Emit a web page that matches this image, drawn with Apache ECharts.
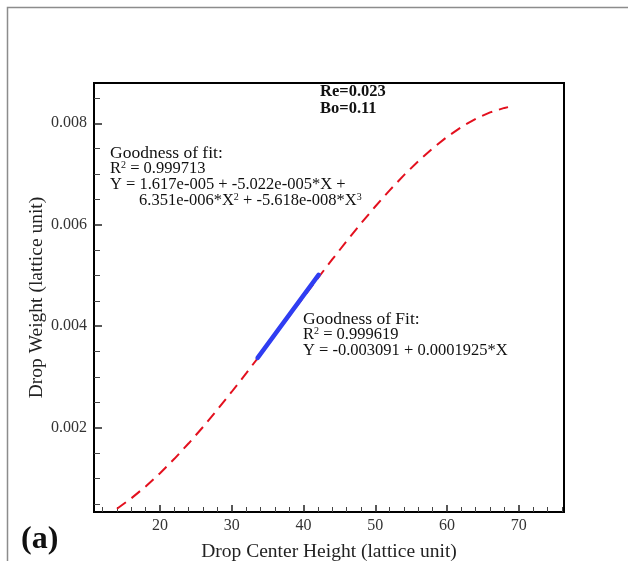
<!DOCTYPE html>
<html><head><meta charset="utf-8">
<script src="https://cdn.jsdelivr.net/npm/echarts@6/dist/echarts.min.js"></script>
<style>html,body{margin:0;padding:0;background:#fff}#c{width:628px;height:561px}</style>
</head><body><div id="c"></div>
<script>
// ---- data ----
const curveX = [14, 16, 18, 20, 22, 24, 26, 28, 30, 32, 34, 36, 38, 40, 42, 44, 46, 48, 50, 52, 54, 56, 58, 60, 62, 64, 66, 68, 68.5];
const curveY = [0.000404, 0.000609, 0.000842, 0.001103, 0.001387, 0.001693, 0.002016, 0.002356, 0.002709, 0.003072, 0.003442, 0.003818, 0.004196, 0.004574, 0.004948, 0.005316, 0.005677, 0.006025, 0.006360, 0.006679, 0.006978, 0.007255, 0.007507, 0.007732, 0.007927, 0.008089, 0.008215, 0.008303, 0.008319];
const fitX = [33.6, 42.1];
const fitY = [0.003377, 0.005013];
const xMajorTicks = [20, 30, 40, 50, 60, 70];
const xMinorTicks = [12, 14, 16, 18, 22, 24, 26, 28, 32, 34, 36, 38, 42, 44, 46, 48, 52, 54, 56, 58, 62, 64, 66, 68, 72, 74, 76];
const yMajorTicks = [0.002, 0.004, 0.006, 0.008];
const yMinorTicks = [0.0005, 0.001, 0.0015, 0.0025, 0.003, 0.0035, 0.0045, 0.005, 0.0055, 0.0065, 0.007, 0.0075, 0.0085];
const xName = 'Drop Center Height (lattice unit)';
const yName = 'Drop Weight (lattice unit)';
const paramLines = ['Re=0.023', 'Bo=0.11'];
const fit1Lines = ['Goodness of fit:', 'R{s|2} = 0.999713', 'Y = 1.617e-005 + -5.022e-005*X +', '6.351e-006*X{s|2} + -5.618e-008*X{s|3}'];
const fit2Lines = ['Goodness of Fit:', 'R{s|2} = 0.999619', 'Y = -0.003091 + 0.0001925*X'];
const panelLabel = '(a)';

// ---- layout ----
const XMIN = 10.8, XMAX = 76.3, YMIN = 0.000339, YMAX = 0.008794;
const FONT = 'Liberation Serif';
const gridBox = {left: 94, top: 83, width: 470, height: 429};

const chart = echarts.init(document.getElementById('c'), null, {renderer: 'canvas'});

function rich() {
  return {
    s: {fontFamily: FONT, fontSize: 10, fill: '#111', color: '#111', verticalAlign: 'top', lineHeight: 10}
  };
}
function textEl(str, x, y, size, bold) {
  return {
    type: 'text', z: 100,
    style: {
      text: str, x: x, y: y, verticalAlign: 'middle', align: 'left',
      fontFamily: FONT, fontSize: size, fontWeight: bold ? 'bold' : 'normal', fill: '#111',
      rich: rich()
    }
  };
}

const graphics = [
  {type: 'rect', shape: {x: 7.5, y: 7.5, width: 800, height: 800}, style: {fill: 'none', stroke: '#8c8c8c', lineWidth: 1.5}, z: 0},
  textEl(paramLines[0], 320, 92, 16.5, true),
  textEl(paramLines[1], 320, 109, 16.5, true),
  textEl(fit1Lines[0], 110, 153, 17.5),
  textEl(fit1Lines[1], 110, 169, 16.5),
  textEl(fit1Lines[2], 110, 185, 16.5),
  textEl(fit1Lines[3], 139, 201, 16.5),
  textEl(fit2Lines[0], 303, 319, 17.5),
  textEl(fit2Lines[1], 303, 335, 16.5),
  textEl(fit2Lines[2], 303, 351, 16.5),
  textEl(panelLabel, 21, 540, 32, true)
];

const baseX = {
  type: 'value', min: XMIN, max: XMAX, position: 'bottom',
  splitLine: {show: false}
};
const baseY = {
  type: 'value', min: YMIN, max: YMAX, position: 'left',
  splitLine: {show: false}
};

chart.setOption({
  animation: false,
  backgroundColor: '#fff',
  grid: [
    Object.assign({show: true, borderColor: '#000', borderWidth: 2, backgroundColor: 'transparent', containLabel: false, outerBoundsMode: 'none'}, gridBox),
    Object.assign({show: false, containLabel: false, outerBoundsMode: 'none'}, gridBox)
  ],
  xAxis: [
    Object.assign({}, baseX, {
      gridIndex: 0,
      axisLine: {show: true, onZero: false, lineStyle: {color: '#000', width: 2}},
      axisTick: {show: true, inside: true, length: 7, customValues: xMajorTicks, lineStyle: {color: '#222', width: 1.5}},
      axisLabel: {show: true, customValues: xMajorTicks, color: '#333', fontFamily: FONT, fontSize: 16, margin: 6},
      name: xName, nameLocation: 'middle', nameGap: 30, nameMoveOverlap: false,
      nameTextStyle: {fontFamily: FONT, fontSize: 19.5, color: '#222'}
    }),
    Object.assign({}, baseX, {
      gridIndex: 1,
      axisLine: {show: false, onZero: false},
      axisTick: {show: true, inside: true, length: 5, customValues: xMinorTicks, lineStyle: {color: '#444', width: 1}},
      axisLabel: {show: false}
    })
  ],
  yAxis: [
    Object.assign({}, baseY, {
      gridIndex: 0,
      axisLine: {show: true, onZero: false, lineStyle: {color: '#000', width: 2}},
      axisTick: {show: true, inside: true, length: 8, customValues: yMajorTicks, lineStyle: {color: '#222', width: 1.5}},
      axisLabel: {show: true, customValues: yMajorTicks, color: '#333', fontFamily: FONT, fontSize: 16, margin: 7,
        formatter: v => v.toFixed(3)},
      name: yName, nameLocation: 'middle', nameGap: 47, nameRotate: 90, nameMoveOverlap: false,
      nameTextStyle: {fontFamily: FONT, fontSize: 19.5, color: '#222'}
    }),
    Object.assign({}, baseY, {
      gridIndex: 1,
      axisLine: {show: false, onZero: false},
      axisTick: {show: true, inside: true, length: 6, customValues: yMinorTicks, lineStyle: {color: '#444', width: 1}},
      axisLabel: {show: false}
    })
  ],
  graphic: graphics,
  series: [
    {
      type: 'line', xAxisIndex: 0, yAxisIndex: 0, z: 2,
      data: curveX.map((x, i) => [x, curveY[i]]),
      showSymbol: false, smooth: false,
      lineStyle: {color: '#e3101e', width: 2, type: [11, 7]}
    },
    {
      type: 'line', xAxisIndex: 0, yAxisIndex: 0, z: 3,
      data: fitX.map((x, i) => [x, fitY[i]]),
      showSymbol: false,
      lineStyle: {color: '#2f3df2', width: 4.5, cap: 'round'}
    }
  ]
});
</script>
</body></html>
